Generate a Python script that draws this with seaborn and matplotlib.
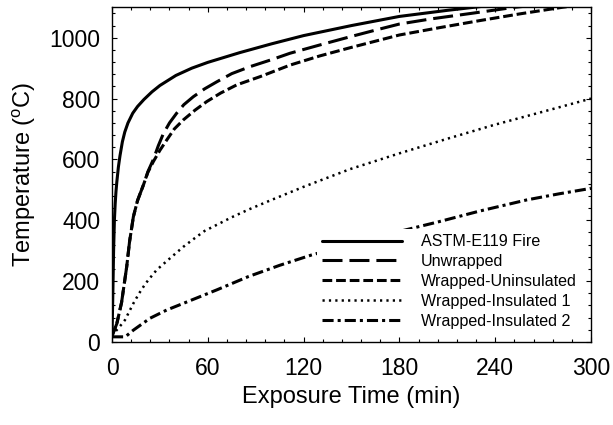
import matplotlib
matplotlib.use("Agg")
import matplotlib.pyplot as plt
from matplotlib.ticker import MultipleLocator
import seaborn as sns
import pandas as pd

# ---- data ----
astm_t = [0, 0.5, 1, 1.5, 2, 2.5, 3, 4, 5, 6.5, 8, 10, 13, 16, 20, 25, 30, 40, 50, 60,
          80, 100, 120, 150, 180, 210, 240, 270]
astm_T = [20, 150, 300, 400, 455, 495, 525, 575, 612, 658, 690, 720, 752, 774, 797, 822, 843,
          876, 900, 919, 951, 980, 1007, 1040, 1070, 1090, 1108, 1125]

unwr_t = [0, 3, 6, 9.2, 11, 13.4, 16, 19.6, 22.5, 25.9, 29, 32.1, 36, 40.5, 45, 50.9, 58,
          65.6, 75, 86.5, 100, 111.5, 130, 149, 165, 180, 200, 225, 252, 280]
unwr_T = [20, 60, 130, 247, 330, 412, 465, 515, 560, 600, 645, 684, 720, 752, 780, 806, 832,
          855, 882, 905, 928, 949, 976, 1003, 1025, 1045, 1062, 1080, 1100, 1115]

wunins_t = [0, 3, 6, 9.2, 11, 13.4, 16, 19.6, 22.5, 25.9, 30, 34.3, 39, 44.7, 52, 59.3, 68,
            78.1, 92.7, 111.5, 130, 149, 180, 205, 230, 255, 282, 300]
wunins_T = [20, 60, 130, 247, 330, 412, 465, 515, 558, 593, 630, 664, 700, 730, 762, 790, 818,
            845, 872, 910, 940, 967, 1009, 1033, 1056, 1078, 1100, 1112]

wins1_t = [0, 2.9, 5.5, 8.1, 10.5, 13.4, 17, 21, 24.5, 28, 33, 38.5, 44.7, 52, 58, 65.6, 75,
           85.4, 99, 120, 149, 180, 210, 239, 270, 300]
wins1_T = [20, 39, 55, 72, 97, 127, 160, 192, 215, 237, 260, 285, 313, 342, 365, 385, 410,
           435, 465, 510, 568, 620, 668, 713, 757, 800]

wins2_t = [0, 8.3, 13.4, 23.8, 34.2, 44.7, 55.1, 65.5, 85.4, 105, 125, 150, 175, 204.5, 230,
           259.8, 280, 300]
wins2_T = [17, 17, 39, 78, 105, 127, 149, 171, 215, 252, 286, 322, 357, 395, 430, 467, 487, 505]

labels = ["ASTM-E119 Fire", "Unwrapped", "Wrapped-Uninsulated",
          "Wrapped-Insulated 1", "Wrapped-Insulated 2"]

series = [(astm_t, astm_T), (unwr_t, unwr_T), (wunins_t, wunins_T),
          (wins1_t, wins1_T), (wins2_t, wins2_T)]

# ---- style ----
sns.set_style("white")
plt.rcParams["font.family"] = ["Liberation Sans", "DejaVu Sans"]
plt.rcParams["mathtext.fontset"] = "custom"
plt.rcParams["mathtext.rm"] = "Liberation Sans"
plt.rcParams["lines.scale_dashes"] = False
for k in ["text.color", "axes.labelcolor", "xtick.color", "ytick.color"]:
    plt.rcParams[k] = "black"

styles = [
    dict(linestyle="-", lw=2.2),
    dict(linestyle=(0, (14.4, 5.0)), lw=2.2),
    dict(linestyle=(0, (7.0, 2.8)), lw=2.2),
    dict(linestyle=(0, (1.6, 3.0)), lw=1.8),
    dict(linestyle=(0, (8.0, 2.9, 2.2, 2.9)), lw=2.2),
]

fig = plt.figure(figsize=(6.13, 4.25), dpi=100)
ax = fig.add_axes([112 / 613, 83 / 425, (591 - 112) / 613, (342 - 7.3) / 425])

for (t, T), lab, st in zip(series, labels, styles):
    df = pd.DataFrame({"t": t, "T": T})
    sns.lineplot(data=df, x="t", y="T", ax=ax, color="black", label=lab,
                 sort=False, estimator=None, **st)

ax.set_xlim(0, 300)
ax.set_ylim(0, 1100)
ax.xaxis.set_major_locator(MultipleLocator(60))
ax.xaxis.set_minor_locator(MultipleLocator(12))
ax.yaxis.set_major_locator(MultipleLocator(200))
ax.yaxis.set_minor_locator(MultipleLocator(40))
ax.tick_params(which="both", direction="in", top=True, right=True, bottom=True, left=True,
               color="black", width=0.8)
ax.tick_params(which="major", length=3.6, labelsize=16.5)
ax.tick_params(axis="x", which="major", pad=11)
ax.tick_params(axis="y", which="major", pad=8.5)
ax.tick_params(which="minor", length=2.2)
for sp in ax.spines.values():
    sp.set_color("black")
    sp.set_linewidth(1.0)

ax.set_xlabel("Exposure Time (min)", fontsize=17, labelpad=4)
ax.set_ylabel("Temperature ($^{\\rm o}$C)", fontsize=17, labelpad=8)

leg = ax.legend(loc="lower left", bbox_to_anchor=(0.428, 0.0257), borderaxespad=0,
                frameon=True, framealpha=1, facecolor="white", edgecolor="none",
                fontsize=11.6, handlelength=5.0, handletextpad=1.14,
                labelspacing=0.3, borderpad=0.3, fancybox=False)
leg.get_frame().set_linewidth(0)

fig.savefig("out.png", dpi=100)
